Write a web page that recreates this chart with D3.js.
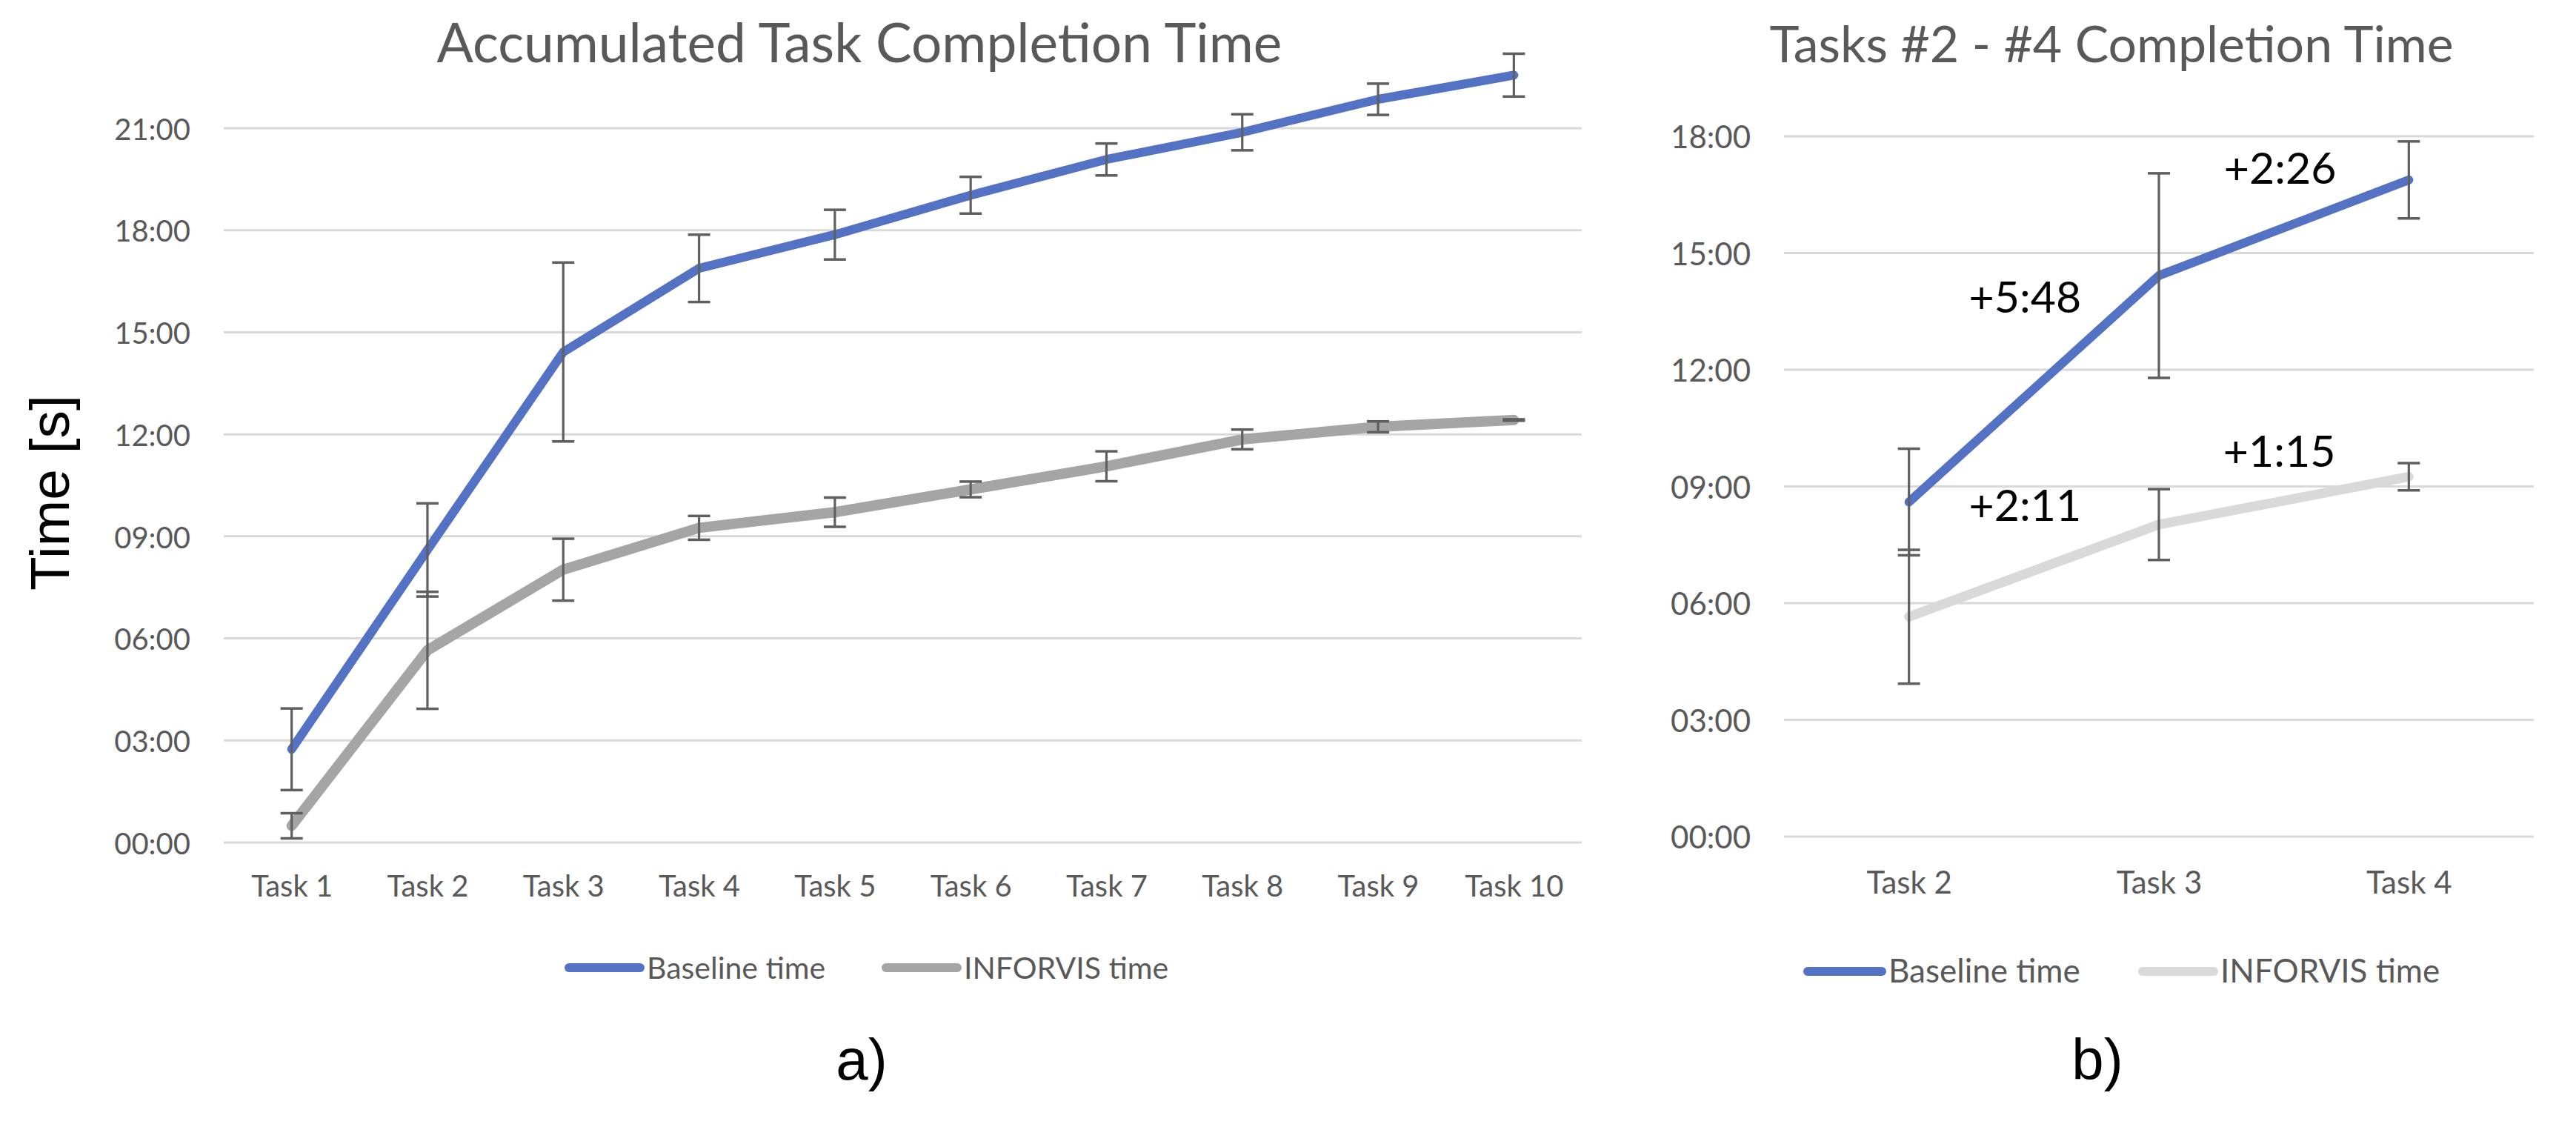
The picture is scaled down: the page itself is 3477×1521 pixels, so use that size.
<!DOCTYPE html>
<html>
<head>
<meta charset="utf-8">
<script src="https://cdn.jsdelivr.net/npm/d3@7"></script>
<style>
  html, body { margin: 0; padding: 0; background: #ffffff; }
  svg { display: block; }
</style>
</head>
<body>
<svg id="chart" width="3477" height="1521"></svg>
<script>
// ---------- data (minutes) ----------
const tasks = ["Task 1", "Task 2", "Task 3", "Task 4", "Task 5", "Task 6", "Task 7", "Task 8", "Task 9", "Task 10"];
const baselineTime = [2.74, 8.60, 14.42, 16.88, 17.87, 19.03, 20.08, 20.88, 21.85, 22.56];
const baselineErr  = [1.20, 1.37, 2.63, 0.99, 0.73, 0.54, 0.47, 0.53, 0.46, 0.63];
const inforvisTime = [0.49, 5.65, 8.02, 9.25, 9.71, 10.38, 11.06, 11.85, 12.22, 12.42];
const inforvisErr  = [0.37, 1.72, 0.91, 0.35, 0.43, 0.23, 0.44, 0.29, 0.16, 0.02];
const leftTicks  = [0, 3, 6, 9, 12, 15, 18, 21];
const rightTicks = [0, 3, 6, 9, 12, 15, 18];
const zoomTasks = ["Task 2", "Task 3", "Task 4"];
const seriesNames = ["Baseline time", "INFORVIS time"];
const deltaBaseline = ["+5:48", "+2:26"];
const deltaInforvis = ["+2:11", "+1:15"];
const titles = ["Accumulated Task Completion Time", "Tasks #2 - #4 Completion Time"];
const panelLabels = ["a)", "b)"];
const yAxisTitle = "Time [s]";

// ---------- helpers ----------
const svg = d3.select("#chart");
const FONT = "Lato, 'Open Sans', sans-serif";
const fmt = v => d3.format("02d")(v) + ":00";

function drawPanel(cfg) {
  const g = svg.append("g");
  const x = d3.scalePoint().domain(cfg.cats).range([cfg.x0, cfg.x1]).padding(0.5);
  const y = d3.scaleLinear().domain([0, cfg.yMaxTick]).range([cfg.y0, cfg.yTop]);

  // gridlines
  g.append("g").selectAll("line").data(cfg.ticks).join("line")
    .attr("x1", cfg.x0).attr("x2", cfg.x1)
    .attr("y1", d => y(d)).attr("y2", d => y(d))
    .attr("stroke", "#d9d9d9").attr("stroke-width", 3);

  // y axis labels
  const ya = d3.axisLeft(y).tickValues(cfg.ticks).tickFormat(fmt).tickSize(0).tickPadding(0);
  const yg = g.append("g").attr("transform", `translate(${cfg.yLabelX},0)`).call(ya);
  yg.select(".domain").remove();
  yg.selectAll("text").attr("font-family", FONT).attr("font-size", cfg.tickSize).attr("fill", "#595959")
    .attr("dy", "0.38em");

  // x axis labels
  const xa = d3.axisBottom(x).tickSize(0).tickPadding(0);
  const xg = g.append("g").attr("transform", `translate(0,${cfg.xLabelY})`).call(xa);
  xg.select(".domain").remove();
  xg.selectAll("text").attr("font-family", FONT).attr("font-size", cfg.tickSize).attr("fill", "#595959")
    .attr("dy", 0);

  // lines
  const line = d3.line().x(d => x(d.c)).y(d => y(d.v));
  cfg.series.forEach(s => {
    g.append("path").datum(s.data).attr("d", line)
      .attr("fill", "none").attr("stroke", s.color).attr("stroke-width", s.width)
      .attr("stroke-linejoin", "round").attr("stroke-linecap", "round");
  });

  // error bars
  cfg.series.forEach(s => {
    const eb = g.append("g").selectAll("g").data(s.data).join("g");
    eb.append("line").attr("x1", d => x(d.c)).attr("x2", d => x(d.c))
      .attr("y1", d => y(d.v - d.e)).attr("y2", d => y(d.v + d.e))
      .attr("stroke", "#5f5f5f").attr("stroke-width", 3.2);
    [-1, 1].forEach(sg => {
      eb.append("line").attr("x1", d => x(d.c) - 15).attr("x2", d => x(d.c) + 15)
        .attr("y1", d => y(d.v + sg * d.e)).attr("y2", d => y(d.v + sg * d.e))
        .attr("stroke", "#5f5f5f").attr("stroke-width", 3.5);
    });
  });

  // title
  g.append("text").attr("x", cfg.titleX).attr("y", 84).attr("text-anchor", "middle")
    .attr("font-family", FONT).attr("font-size", cfg.titleSize).attr("fill", "#595959").text(cfg.title);

  // legend
  cfg.legend.forEach((L, i) => {
    g.append("line").attr("x1", L.x + 6).attr("x2", L.x + L.w - 6)
      .attr("y1", L.y).attr("y2", L.y).attr("stroke", cfg.series[i].color)
      .attr("stroke-width", 12).attr("stroke-linecap", "round");
    g.append("text").attr("x", L.x + L.w + 3).attr("y", L.y + 15)
      .attr("font-family", FONT).attr("font-size", cfg.legendSize).attr("fill", "#595959")
      .text(seriesNames[i]);
  });

  // panel label
  g.append("text").attr("x", cfg.labelX).attr("y", 1457).attr("text-anchor", "middle")
    .attr("font-family", "'Liberation Sans', Arial, sans-serif").attr("font-size", 78)
    .attr("fill", "#000").text(cfg.label);

  return { g, x, y };
}

// ---------- panel a ----------
const seriesA = [
  { color: "#5472c4", width: 12, data: tasks.map((c, i) => ({ c, v: baselineTime[i], e: baselineErr[i] })) },
  { color: "#a5a5a5", width: 14, data: tasks.map((c, i) => ({ c, v: inforvisTime[i], e: inforvisErr[i] })) }
];
drawPanel({
  cats: tasks, x0: 302, x1: 2135, y0: 1137, yTop: 173, yMaxTick: 21, ticks: leftTicks,
  yLabelX: 257, xLabelY: 1210, series: seriesA, title: titles[0], titleX: 1160, titleSize: 73,
  tickSize: 40, legendSize: 41,
  legend: [{ x: 762, w: 108, y: 1306 }, { x: 1190, w: 108, y: 1306 }],
  labelX: 1163, label: panelLabels[0]
});

// y axis title
svg.append("text").attr("transform", "translate(93,665) rotate(-90)")
  .attr("text-anchor", "middle").attr("font-family", "'Liberation Sans', Arial, sans-serif")
  .attr("font-size", 75).attr("fill", "#000").text(yAxisTitle);

// ---------- panel b ----------
const zi = zoomTasks.map(t => tasks.indexOf(t));
const seriesB = [
  { color: "#5472c4", width: 12, data: zi.map(i => ({ c: tasks[i], v: baselineTime[i], e: baselineErr[i] })) },
  { color: "#d9d9d9", width: 13, data: zi.map(i => ({ c: tasks[i], v: inforvisTime[i], e: inforvisErr[i] })) }
];
const pb = drawPanel({
  cats: zoomTasks, x0: 2408, x1: 3420, y0: 1129, yTop: 184, yMaxTick: 18, ticks: rightTicks,
  yLabelX: 2363, xLabelY: 1206, series: seriesB, title: titles[1], titleX: 2850, titleSize: 68,
  tickSize: 42, legendSize: 44,
  legend: [{ x: 2434, w: 112, y: 1311 }, { x: 2886, w: 108, y: 1311 }],
  labelX: 2831, label: panelLabels[1]
});

// delta annotations
const mid = (a, b) => (pb.x(a) + pb.x(b)) / 2;
const ann = [
  { t: deltaBaseline[0], x: mid("Task 2", "Task 3") - 12, y: 422 },
  { t: deltaBaseline[1], x: mid("Task 3", "Task 4") - 5, y: 248 },
  { t: deltaInforvis[0], x: mid("Task 2", "Task 3") - 12, y: 703 },
  { t: deltaInforvis[1], x: mid("Task 3", "Task 4") - 6, y: 630 }
];
pb.g.selectAll("text.ann").data(ann).join("text").attr("class", "ann")
  .attr("x", d => d.x).attr("y", d => d.y).attr("text-anchor", "middle")
  .attr("font-family", FONT).attr("font-size", 59).attr("fill", "#000").text(d => d.t);
</script>
</body>
</html>
